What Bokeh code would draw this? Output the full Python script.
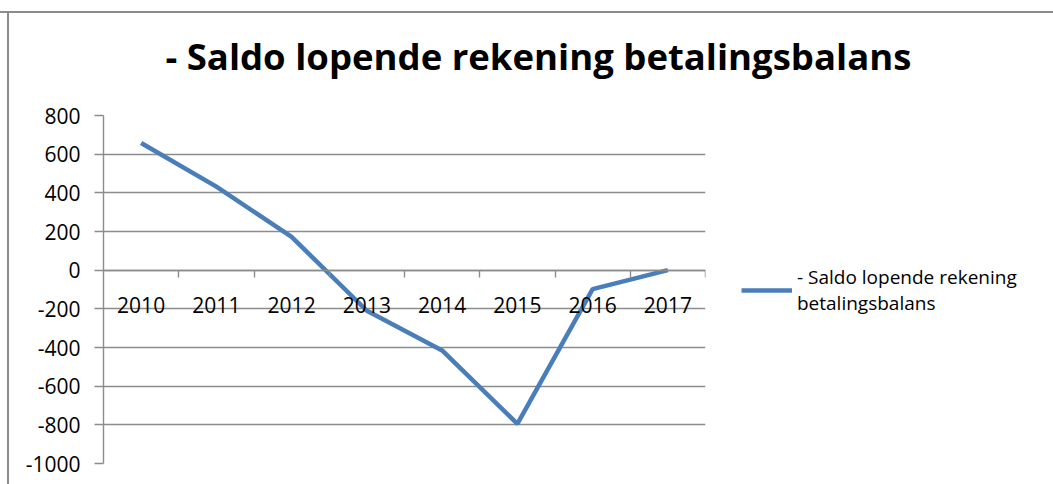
from bokeh.plotting import figure
from bokeh.models import (FixedTicker, Legend, LegendItem, Range1d, LinearAxis)
from bokeh.embed import file_html
from bokeh.resources import INLINE

years = [2010, 2011, 2012, 2013, 2014, 2015, 2016, 2017]
values = [658, 432, 172, -210, -415, -795, -98, 0]
y_ticks = [-1000, -800, -600, -400, -200, 0, 200, 400, 600, 800]
title_text = "- Saldo lopende rekening betalingsbalans"
series_name = "- Saldo lopende rekening\nbetalingsbalans"

GRID = "#8c8c8c"
BLUE = "#4a7ebb"
FONT = "Open Sans"

p = figure(frame_width=602, frame_height=348, output_backend="svg", toolbar_location=None,
           x_range=Range1d(years[0] - 0.5, years[-1] + 0.5),
           y_range=Range1d(y_ticks[0], y_ticks[-1]),
           min_border_left=103, min_border_right=348, min_border_top=125, min_border_bottom=21,
           x_axis_location=None, y_axis_location="left")
p.border_fill_color = None
p.background_fill_color = "#ffffff"
p.styles = {
    "margin-top": "-10px", "margin-bottom": "-16px", "margin-right": "-16px",
    "background": ("linear-gradient(#8c8c8c,#8c8c8c) 0px 21px / 100% 2px no-repeat, "
                   "linear-gradient(#8c8c8c,#8c8c8c) 7px 21px / 2px 100% no-repeat, #ffffff"),
}
p.outline_line_color = None
p.xgrid.visible = False
p.ygrid.ticker = FixedTicker(ticks=y_ticks)
p.ygrid.grid_line_color = GRID
p.ygrid.grid_line_width = 1.4

ya = p.yaxis[0]
ya.ticker = FixedTicker(ticks=y_ticks)
ya.major_label_overrides = {t: str(t) for t in y_ticks}
ya.axis_line_color = GRID
ya.axis_line_width = 1.4
ya.major_tick_line_color = GRID
ya.major_tick_line_width = 1.4
ya.major_tick_in = 0
ya.major_tick_out = 9
ya.minor_tick_line_color = None
ya.major_label_standoff = 14
ya.major_label_text_font = FONT
ya.major_label_text_font_size = "21px"
ya.major_label_text_color = "#000000"

# category boundary ticks along y=0
bounds = [y + 0.5 for y in years]
xa_line = LinearAxis(ticker=FixedTicker(ticks=bounds), fixed_location=0)
xa_line.major_label_overrides = {b: "" for b in bounds}
xa_line.axis_line_color = GRID
xa_line.axis_line_width = 1.4
xa_line.major_tick_line_color = GRID
xa_line.major_tick_line_width = 1.4
xa_line.major_tick_in = 7
xa_line.major_tick_out = 0
xa_line.minor_tick_line_color = None
xa_line.major_label_standoff = 0
p.add_layout(xa_line, "above")

# category labels, drawn below the zero line
xa_lab = LinearAxis(ticker=FixedTicker(ticks=years), fixed_location=0)
xa_lab.major_label_overrides = {y: str(y) for y in years}
xa_lab.axis_line_color = None
xa_lab.major_tick_line_color = None
xa_lab.minor_tick_line_color = None
xa_lab.major_tick_in = 0
xa_lab.major_tick_out = 0
xa_lab.major_label_standoff = -43
xa_lab.major_label_text_font = FONT
xa_lab.major_label_text_font_size = "21px"
xa_lab.major_label_text_color = "#000000"
p.add_layout(xa_lab, "above")

r = p.line(years, values, line_color=BLUE, line_width=4.5)

legend = Legend(items=[LegendItem(label=series_name, renderers=[r])],
                location=(36, 147), orientation="vertical")
legend.border_line_color = None
legend.background_fill_alpha = 0
legend.margin = 0
legend.padding = 0
legend.glyph_width = 51
legend.label_standoff = 5
legend.label_text_font = FONT
legend.label_text_font_size = "19px"
legend.label_text_color = "#000000"
p.add_layout(legend, "right")

p.title.text = title_text
p.title.text_font = FONT
p.title.text_font_style = "bold"
p.title.text_font_size = "36.5px"
p.title.text_color = "#000000"
p.title.align = "left"
p.title.offset = 62
p.title.standoff = 70

open("out.html", "w").write(file_html(p, INLINE))
